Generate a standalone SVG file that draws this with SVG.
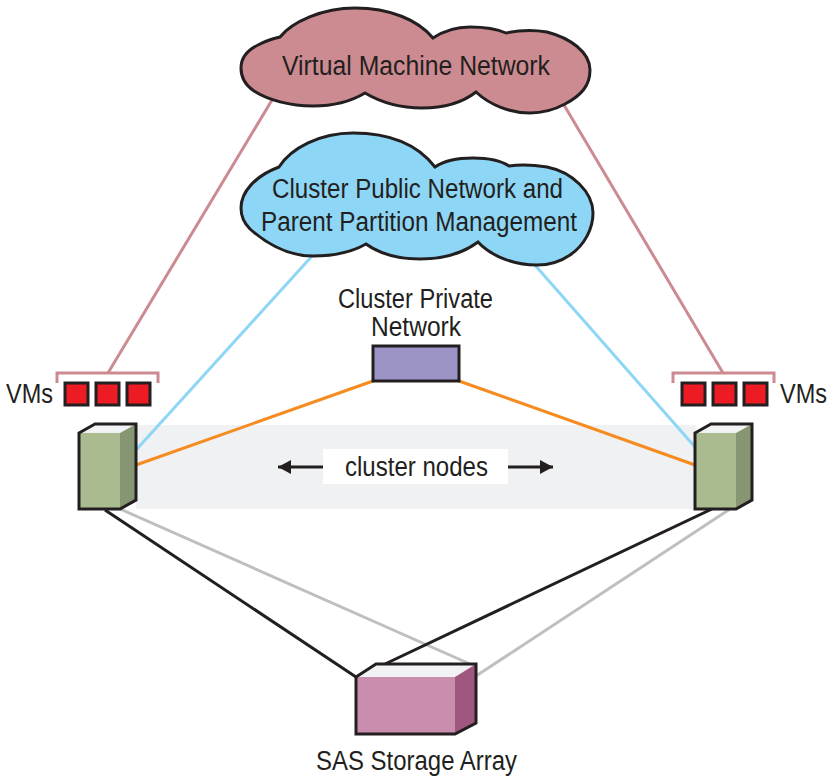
<svg xmlns="http://www.w3.org/2000/svg" width="831" height="777" viewBox="0 0 831 777">
<style>
text{font-family:"Liberation Sans",Arial,sans-serif;font-size:27px;fill:#231f20}
.o{stroke:#231f20;stroke-width:3;stroke-linejoin:miter}
.vm{fill:#ed1c24;stroke:#231f20;stroke-width:3}
.l{fill:none;stroke-width:3}
.rose{stroke:#cc8b90}.blue{stroke:#8ed6f6}.orange{stroke:#f68b1f}.black{stroke:#231f20}.grey{stroke:#bfbfbf}
.front{fill:#abbb90}.side{fill:#869672}.top{fill:#f1f2f3}
</style>
<defs>
<marker id="ah" markerUnits="userSpaceOnUse" markerWidth="15" markerHeight="15" refX="13" refY="7" orient="auto"><path d="M0,0L13,7L0,14Z" fill="#231f20"/></marker>
</defs>
<rect id="band" x="136" y="425" width="560" height="84" fill="#f0f1f3"/>
<g id="connectors">
<path class="l rose" d="M108,373L272,100M723,373L564,105"/>
<path class="l blue" d="M136,450L313,255M695,447L534,264"/>
<path class="l orange" d="M136,465L373,381M695,465L459,381"/>
<path class="l grey" d="M120,509L470,664M730,509L476,676"/>
<path class="l black" d="M105,510L356,677M712,509L385,664"/>
<path class="l" stroke="#231f20" marker-end="url(#ah)" d="M323,467L278,467"/>
<path class="l" stroke="#231f20" marker-end="url(#ah)" d="M508,467L553,467"/>
</g>
<g id="vm-network">
<path class="o" fill="#cc8b90" d="M280,37C292,22 322,8 355,8C390,8 418,20 433,38C445,30 457,27 470,27C484,27 497,29 506,33C520,30 535,30 547,32C570,38 590,52 590,70C590,85 582,95 565,104C552,111 542,113 530,113C510,113 490,105 476,92C462,103 442,108 422,108C402,108 382,103 365,93C350,102 333,106 313,106C290,106 268,100 254,91C245,85 241,77 241,68C241,58 248,50 258,45C265,41 272,39 280,37Z"/>
<text x="282" y="75" textLength="268" lengthAdjust="spacingAndGlyphs">Virtual Machine Network</text>
</g>
<g id="public-network">
<path class="o" fill="#8ed6f6" d="M279,167C291,148 320,133 353,133C390,133 418,145 435,167C445,160 458,158 473,158C488,158 500,160 509,166C522,164 535,165 547,167C572,172 593,192 593,213C593,228 585,245 570,255C560,262 550,265 537,265C515,265 492,257 478,242C462,254 442,259 420,259C398,259 380,254 366,244C352,252 335,256 313,256C290,256 268,245 250,229C245,224 241,217 241,208C241,192 255,176 279,167Z"/>
<text x="272" y="198" textLength="291" lengthAdjust="spacingAndGlyphs">Cluster Public Network and</text>
<text x="261" y="231" textLength="316" lengthAdjust="spacingAndGlyphs">Parent Partition Management</text>
</g>
<g id="private-network">
<rect class="o" x="373" y="346" width="86" height="35" fill="#9c94c6"/>
<text x="338" y="308" textLength="155" lengthAdjust="spacingAndGlyphs">Cluster Private</text>
<text x="371" y="336" textLength="90" lengthAdjust="spacingAndGlyphs">Network</text>
</g>
<g id="cluster-nodes">
<rect x="323" y="449" width="185" height="35" fill="#fff"/>
<text x="345" y="476" textLength="143" lengthAdjust="spacingAndGlyphs">cluster nodes</text>
</g>
<g id="vms-left">
<path fill="none" stroke="#cc8b90" stroke-width="3" d="M57,383V373H158V383"/>
<rect class="vm" x="65" y="383" width="23" height="22"/>
<rect class="vm" x="96" y="383" width="23" height="22"/>
<rect class="vm" x="127" y="383" width="23" height="22"/>
<text transform="translate(6 403) scale(.87 1)">VMs</text>
</g>
<g id="vms-right">
<path fill="none" stroke="#cc8b90" stroke-width="3" d="M673,383V373H774V383"/>
<rect class="vm" x="682" y="383" width="23" height="22"/>
<rect class="vm" x="713" y="383" width="23" height="22"/>
<rect class="vm" x="744" y="383" width="23" height="22"/>
<text transform="translate(780 403) scale(.87 1)">VMs</text>
</g>
<g id="server-left">
<path class="top" d="M79,433L95,424H136L120,433Z"/>
<path class="front" d="M79,433H120V509H79Z"/>
<path class="side" d="M120,433L136,424V500L120,509Z"/>
<path class="o" fill="none" d="M79,433L95,424H136V500L120,509H79Z"/>
</g>
<g id="server-right">
<path class="top" d="M695,433L711,424H752L736,433Z"/>
<path class="front" d="M695,433H736V509H695Z"/>
<path class="side" d="M736,433L752,424V500L736,509Z"/>
<path class="o" fill="none" d="M695,433L711,424H752V500L736,509H695Z"/>
</g>
<g id="storage">
<path class="top" d="M356,677L376,664H476L455,677Z"/>
<path d="M356,677H455V734H356Z" fill="#c98eae"/>
<path d="M455,677L476,664V723L455,734Z" fill="#a0577f"/>
<path class="o" fill="none" d="M356,677L376,664H476V723L455,734H356Z"/>
<text x="316" y="770" textLength="201" lengthAdjust="spacingAndGlyphs">SAS Storage Array</text>
</g>
</svg>
